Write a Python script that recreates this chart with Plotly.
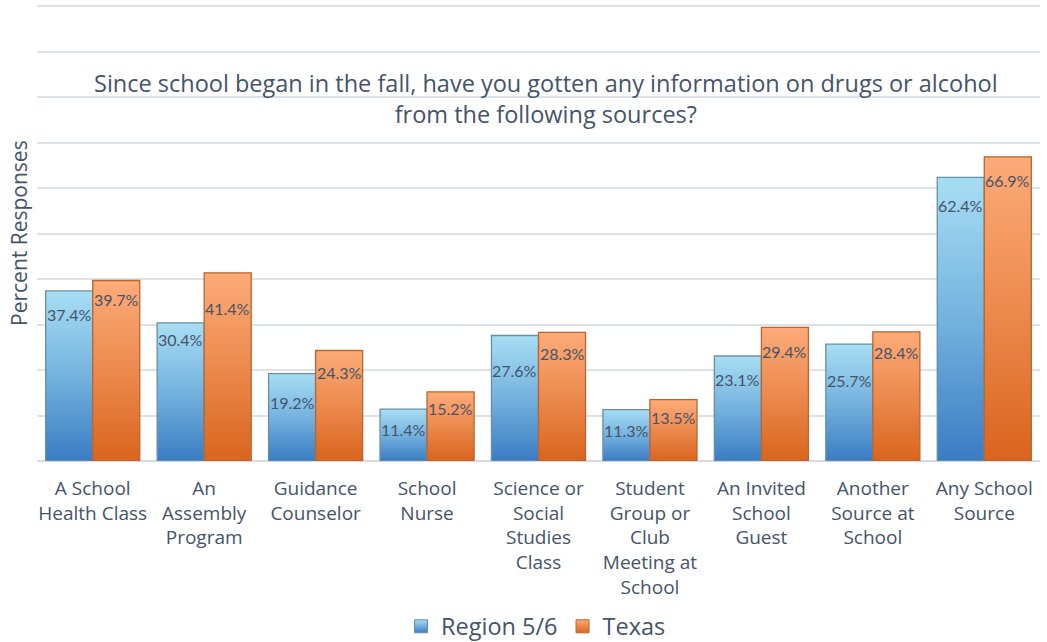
import plotly.graph_objects as go

# Survey sources and percent of students reporting each
sources = [
    "A School<br>Health Class",
    "An<br>Assembly<br>Program",
    "Guidance<br>Counselor",
    "School<br>Nurse",
    "Science or<br>Social<br>Studies<br>Class",
    "Student<br>Group or<br>Club<br>Meeting at<br>School",
    "An Invited<br>School<br>Guest",
    "Another<br>Source at<br>School",
    "Any School<br>Source",
]
region_5_6 = [37.4, 30.4, 19.2, 11.4, 27.6, 11.3, 23.1, 25.7, 62.4]
texas = [39.7, 41.4, 24.3, 15.2, 28.3, 13.5, 29.4, 28.4, 66.9]

# Pixel drop of each value label below its bar top
region_label_drop = [24, 17, 29, 20, 35, 21, 24, 36, 28]
texas_label_drop = [19, 36, 22, 17, 21, 18, 24, 21, 24]

TEXT = "#44546a"
FONT = "Open Sans"
BAR_W = 0.422

series = [
    dict(name="Region 5/6", values=region_5_6, side=-1, drop=region_label_drop,
         scale=[[0, "#3a7cc3"], [0.5, "#74b2de"], [1, "#a8def4"]],
         top="#a8def4", bottom="#3a7cc3", edge="#6590a6"),
    dict(name="Texas", values=texas, side=1, drop=texas_label_drop,
         scale=[[0, "#d9641d"], [0.5, "#ec8a4e"], [1, "#fdab79"]],
         top="#fdab79", bottom="#d9641d", edge="#b8662f"),
]

fig = go.Figure()
annotations = []
for s in series:
    for i, v in enumerate(s["values"]):
        x0 = i if s["side"] > 0 else i - BAR_W
        x1 = x0 + BAR_W
        fig.add_trace(go.Scatter(
            x=[x0, x0, x1, x1, x0],
            y=[0, v, v, 0, 0],
            mode="lines",
            fill="toself",
            fillgradient=dict(type="vertical", colorscale=s["scale"], start=0, stop=v),
            line=dict(color=s["edge"], width=1.3),
            name=s["name"],
            legendgroup=s["name"],
            showlegend=False,
            hoveron="fills",
            text=f"{s['name']}: {v}%",
            hoverinfo="text",
        ))
        annotations.append(dict(
            x=(x0 + x1) / 2, y=v, xref="x", yref="y",
            text=f"{v}%", showarrow=False,
            yanchor="middle", yshift=-s["drop"][i],
            font=dict(family="Lato", size=16, color=TEXT),
        ))
    # legend key: small square with the same vertical gradient
    fig.add_trace(go.Scatter(
        x=[None], y=[None], mode="markers", name=s["name"],
        legendgroup=s["name"], showlegend=True,
        marker=dict(symbol="square", size=13, color=s["top"],
                    gradient=dict(type="vertical", color=s["bottom"]),
                    line=dict(color=s["edge"], width=1)),
    ))

annotations.append(dict(
    x=0.5075, y=0.7956, xref="paper", yref="paper",
    text="Since school began in the fall, have you gotten any information on drugs or alcohol<br>from the following sources?",
    showarrow=False, xanchor="center", yanchor="middle",
    font=dict(family=FONT, size=23.5, color=TEXT),
))
annotations.append(dict(
    x=-0.018, y=0.5, xref="paper", yref="paper",
    text="Percent Responses", textangle=-90, showarrow=False,
    xanchor="center", yanchor="middle",
    font=dict(family=FONT, size=21, color=TEXT),
))

fig.update_layout(
    width=1047, height=642,
    margin=dict(l=37, r=7, t=5, b=181, autoexpand=False),
    paper_bgcolor="white", plot_bgcolor="white",
    annotations=annotations,
    showlegend=True,
    legend=dict(
        orientation="h", x=0.4975, xanchor="center", y=-0.363, yanchor="middle",
        font=dict(family=FONT, size=23.5, color=TEXT),
        itemwidth=30,
    ),
    xaxis=dict(
        range=[-0.5, 8.5], tickvals=list(range(len(sources))), ticktext=sources,
        showgrid=False, zeroline=False, showline=False, ticks="",
        tickfont=dict(family=FONT, size=19, color=TEXT),
        ticklabelstandoff=14, automargin=False,
    ),
    yaxis=dict(
        range=[0, 100.3], tickvals=list(range(0, 101, 10)), showticklabels=False,
        showgrid=True, gridcolor="#dde2e9", gridwidth=2,
        zeroline=True, zerolinecolor="#d6dbe3", zerolinewidth=2,
        showline=False, ticks="", automargin=False,
    ),
)

fig.write_html("out.html")
